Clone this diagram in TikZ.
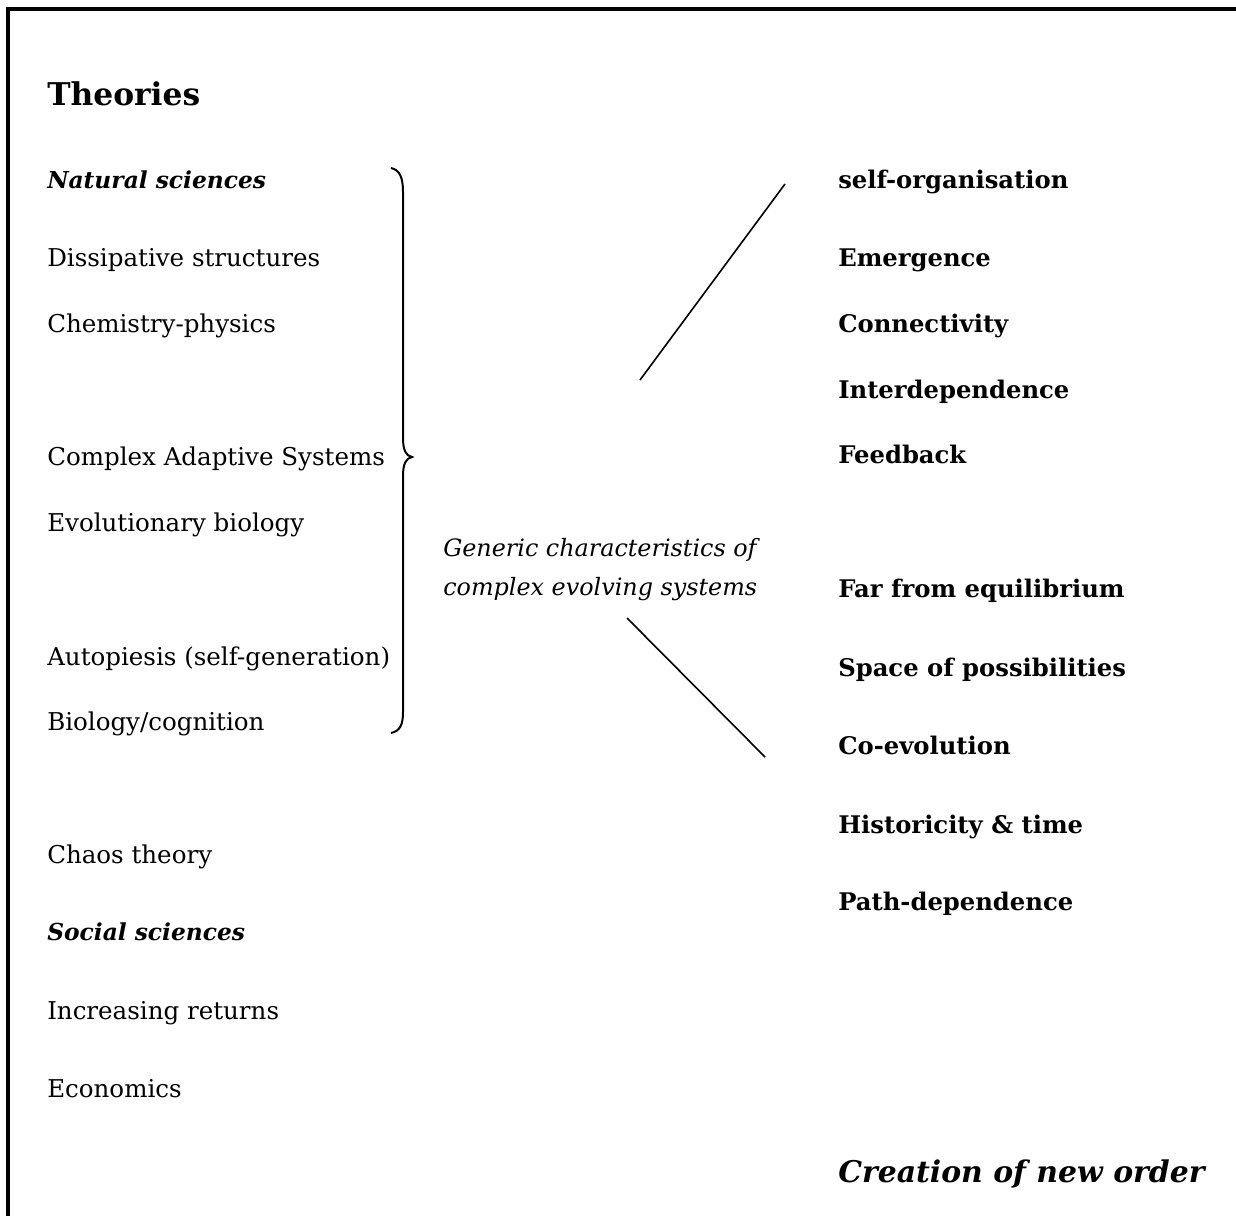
\documentclass[tikz,border=0pt]{standalone}
\usepackage{fontspec}
\setmainfont{DejaVu Serif}
\begin{document}
\begin{tikzpicture}[x=0.75pt,y=-0.75pt,
  lbl/.style={anchor=base west,inner sep=0pt,font=\fontsize{18.4}{22}\selectfont},
  hd/.style={anchor=base west,inner sep=0pt,font=\fontsize{17.5}{22}\selectfont\bfseries\itshape},
  ch/.style={anchor=base west,inner sep=0pt,font=\fontsize{18.2}{22}\selectfont\bfseries},
  big/.style={anchor=base west,inner sep=0pt,font=\fontsize{23.5}{28}\selectfont\bfseries},
  bigit/.style={anchor=base west,inner sep=0pt,font=\fontsize{22.4}{28}\selectfont\bfseries\itshape},
  mid/.style={anchor=base west,inner sep=0pt,font=\fontsize{17.9}{22}\selectfont\itshape},
  ln/.style={line width=1.2pt},
  br/.style={line width=1.5pt}]
\useasboundingbox (0,0) rectangle (1236,1216);
\draw[line width=2.4pt] (8,1216) -- (8,9) -- (1236,9);
\node[big] (theo) at (47,106) {Theories};
\node[hd] (nat) at (47,189) {Natural sciences};
\node[lbl] (dis) at (47,267) {Dissipative structures};
\node[lbl] (chem) at (47,333) {Chemistry-physics};
\node[lbl] (cas) at (47,465) {Complex Adaptive Systems};
\node[lbl] (evo) at (47,531) {Evolutionary biology};
\node[lbl] (aut) at (47,665) {Autopiesis (self-generation)};
\node[lbl] (bio) at (47,730) {Biology/cognition};
\node[lbl] (cha) at (47,863) {Chaos theory};
\node[hd] (soc) at (47,940) {Social sciences};
\node[lbl] (inc) at (47,1019) {Increasing returns};
\node[lbl] (eco) at (47,1097) {Economics};
\node[mid] (gen1) at (443,556) {Generic characteristics of};
\node[mid] (gen2) at (443,595) {complex evolving systems};
\node[ch] (so) at (838,189) {self-organisation};
\node[ch] (em) at (838,267) {Emergence};
\node[ch] (con) at (838,333) {Connectivity};
\node[ch] (int) at (838,398) {Interdependence};
\node[ch] (fee) at (838,464) {Feedback};
\node[ch] (far) at (838,597) {Far from equilibrium};
\node[ch] (spa) at (838,676) {Space of possibilities};
\node[ch] (coe) at (838,754) {Co-evolution};
\node[ch] (his) at (838,833) {Historicity \& time};
\node[ch] (pat) at (838,910) {Path-dependence};
\node[bigit] (cre) at (838,1182) {Creation of new order};
\coordinate (u1) at (640,380);
\coordinate (u2) at (785,184);
\coordinate (l1) at (627,618);
\coordinate (l2) at (765,757);
\draw[ln] (u1) -- (u2);
\draw[ln] (l1) -- (l2);
\draw[br] (391,168) .. controls (400,170) and (403,178) .. (403,192) -- (403,438)
  .. controls (403,450) and (406,456) .. (412,457)
  .. controls (406,458) and (403,464) .. (403,476) -- (403,712)
  .. controls (403,725) and (400,731) .. (391,733);
\end{tikzpicture}
\end{document}
